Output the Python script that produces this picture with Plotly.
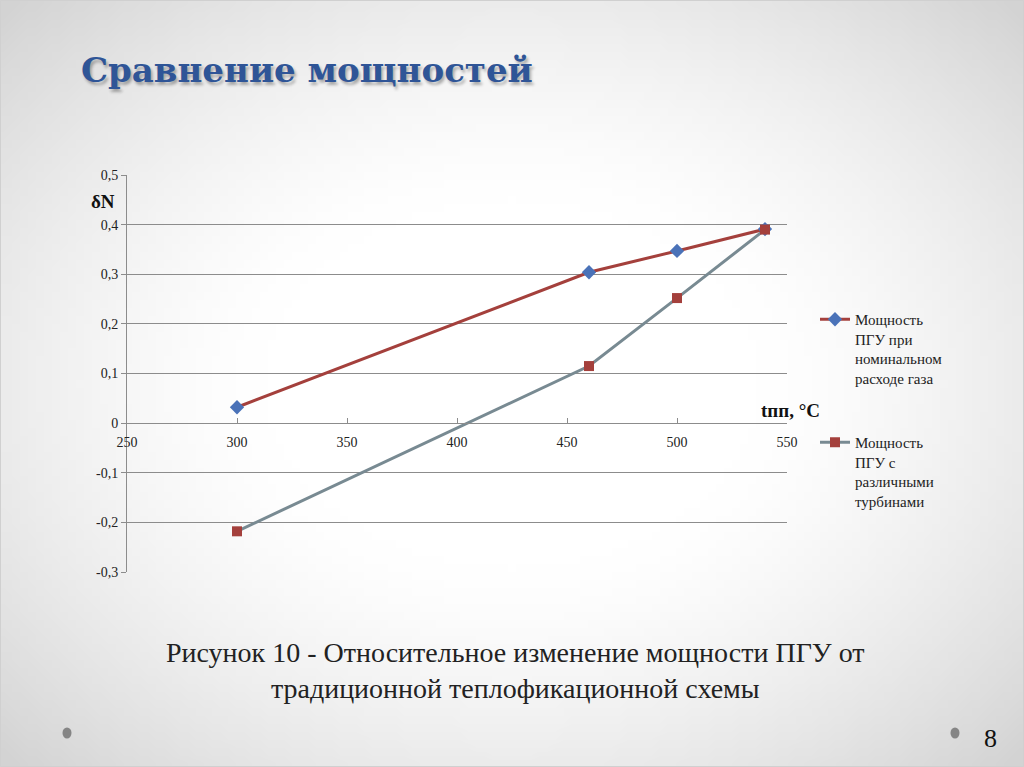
import base64, struct, zlib
import numpy as np
import plotly.graph_objects as go

# ---- data ----
x_vals = [300, 460, 500, 540]
nominal_gas = [0.032, 0.304, 0.347, 0.391]
diff_turbines = [-0.218, 0.115, 0.252, 0.390]
series_names = ["Мощность<br>ПГУ при<br>номинальном<br>расходе газа",
                "Мощность<br>ПГУ с<br>различными<br>турбинами"]
y_ticks = [-0.3, -0.2, -0.1, 0, 0.1, 0.2, 0.3, 0.4, 0.5]
y_labels = ["-0,3", "-0,2", "-0,1", "0", "0,1", "0,2", "0,3", "0,4", "0,5"]
x_ticks = [250, 300, 350, 400, 450, 500, 550]
x_labels = ["250", "300", "350", "400", "450", "500", "550"]

W, H = 1024, 767
L, R, T, B = 127, 787, 175, 572  # plot area in px


def px(x):
    return (x - L) / (R - L)


def py(y):
    return (B - y) / (B - T)


# ---- background vignette image (PNG generated locally) ----
def make_png(w, h):
    xs = np.linspace(-1, 1, w)
    ys = np.linspace(-1, 1, h)
    X, Y = np.meshgrid(xs, ys)
    r = np.sqrt(X ** 2 + Y ** 2) / np.sqrt(2)
    t = np.clip((r - 0.35) / 0.65, 0, 1) ** 1.4
    v = (255 - 44 * t).astype(np.uint8)
    raw = b"".join(b"\x00" + v[i].tobytes() for i in range(h))

    def chunk(tag, data):
        c = struct.pack(">I", len(data)) + tag + data
        return c + struct.pack(">I", zlib.crc32(tag + data) & 0xffffffff)

    png = b"\x89PNG\r\n\x1a\n"
    png += chunk(b"IHDR", struct.pack(">IIBBBBB", w, h, 8, 0, 0, 0, 0))
    png += chunk(b"IDAT", zlib.compress(raw, 9))
    png += chunk(b"IEND", b"")
    return "data:image/png;base64," + base64.b64encode(png).decode()


serif = "Liberation Serif"

fig = go.Figure()
fig.add_trace(go.Scatter(
    x=x_vals, y=nominal_gas, mode="lines+markers", name=series_names[0],
    line=dict(color="#a4403c", width=3),
    marker=dict(symbol="diamond", size=11, color="#4a72b8"),
    legend="legend"))
fig.add_trace(go.Scatter(
    x=x_vals, y=diff_turbines, mode="lines+markers", name=series_names[1],
    line=dict(color="#788a92", width=3),
    marker=dict(symbol="square", size=10, color="#a4403c"),
    legend="legend2"))

leg_common = dict(font=dict(family=serif, size=15, color="#222"),
                  bgcolor="rgba(0,0,0,0)", valign="top",
                  xanchor="left", yanchor="top", itemwidth=30,
                  tracegroupgap=0)

fig.update_layout(
    width=W, height=H,
    margin=dict(l=L, r=W - R, t=T, b=H - B, pad=0),
    paper_bgcolor="#f2f2f2",
    plot_bgcolor="rgba(0,0,0,0)",
    separators=", ",
    showlegend=True,
    legend=dict(x=px(815), y=py(303), **leg_common),
    legend2=dict(x=px(815), y=py(426), **leg_common),
    xaxis=dict(range=[250, 550], tickvals=x_ticks, ticktext=x_labels,
               anchor="free", position=0.375,
               showline=True, linecolor="#8c8c8c", linewidth=1,
               ticks="inside", ticklen=5, tickcolor="#8c8c8c",
               ticklabelstandoff=6,
               showgrid=False, zeroline=False,
               tickfont=dict(family=serif, size=14, color="#222")),
    yaxis=dict(range=[-0.3, 0.5], tickvals=y_ticks, ticktext=y_labels,
               domain=[0, 1],
               showline=True, linecolor="#8c8c8c", linewidth=1,
               ticks="outside", ticklen=5, tickcolor="#8c8c8c",
               showgrid=True, gridcolor="#8c8c8c", gridwidth=1,
               zeroline=False,
               tickfont=dict(family=serif, size=14, color="#222")),
    images=[dict(source=make_png(128, 96), xref="paper", yref="paper",
                 x=px(0), y=py(0), sizex=W / (R - L), sizey=H / (B - T),
                 xanchor="left", yanchor="top", sizing="stretch",
                 layer="below")],
)

ann = [
    dict(text="<b>Сравнение мощностей</b>", x=px(79), y=py(70),
         xanchor="left", yanchor="middle",
         font=dict(family="DejaVu Serif", size=34, color="#2f5597",
                   shadow="2px 3px 3px rgba(0,0,0,0.3)")),
    dict(text="<b>δN</b>", x=px(103), y=py(201), xanchor="center", yanchor="middle",
         font=dict(family=serif, size=19, color="#111")),
    dict(text="<b>tпп, °C</b>", x=px(790), y=py(410), xanchor="center", yanchor="middle",
         font=dict(family=serif, size=19, color="#111")),
    dict(text="Рисунок 10 - Относительное изменение мощности ПГУ от<br>традиционной теплофикационной схемы",
         x=px(515), y=py(670), xanchor="center", yanchor="middle", align="center",
         font=dict(family=serif, size=28, color="#222")),
    dict(text="8", x=px(990), y=py(738), xanchor="center", yanchor="middle",
         font=dict(family=serif, size=26, color="#111")),
]
for a in ann:
    a.update(xref="paper", yref="paper", showarrow=False)
fig.update_layout(annotations=ann)

shapes = []
for cx in (67, 955):
    shapes.append(dict(type="circle", xref="paper", yref="paper",
                       x0=px(cx - 4.5), x1=px(cx + 4.5), y0=py(727.5), y1=py(738.5),
                       fillcolor="#858585", line=dict(width=0)))
shapes.append(dict(type="rect", xref="paper", yref="paper",
                   x0=px(0.5), x1=px(W - 0.5), y0=py(0.5), y1=py(H - 0.5),
                   line=dict(color="#d0d0d0", width=1), layer="below"))
fig.update_layout(shapes=shapes)

fig.write_html("out.html", config={"displayModeBar": False},
               post_script="document.body.style.margin='0';document.body.style.overflow='hidden';")
